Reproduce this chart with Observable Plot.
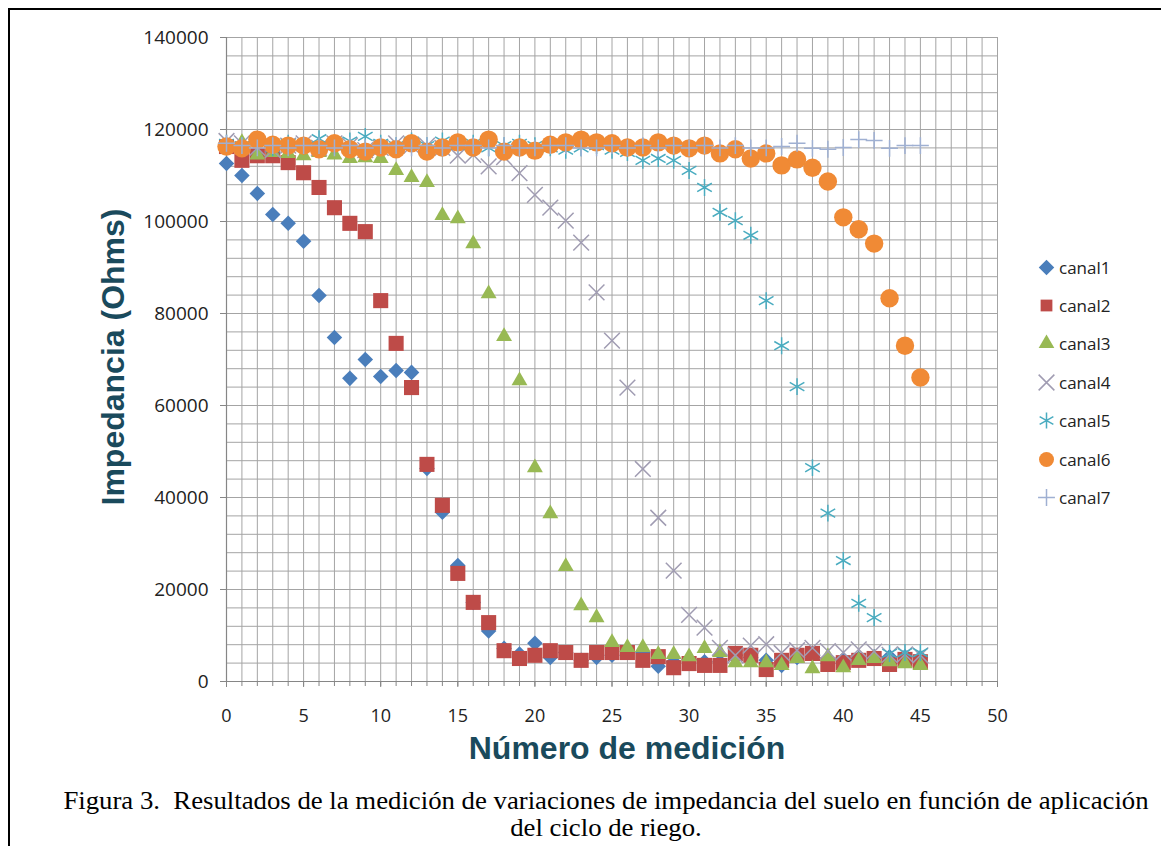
<!DOCTYPE html>
<html>
<head>
<meta charset="utf-8">
<script src="https://cdn.jsdelivr.net/npm/d3@7"></script>
<script src="https://cdn.jsdelivr.net/npm/@observablehq/plot@0.6"></script>
<style>
  html, body { margin: 0; padding: 0; background: #fff; }
  #wrap { position: relative; width: 1161px; height: 846px; overflow: hidden; background:#fff; }
  #frame { position: absolute; left: 8px; top: 8px; width: 1200px; height: 900px; border-left: 2px solid #000; border-top: 2px solid #000; box-sizing: border-box; pointer-events:none; }
  #chart { position: absolute; left: 0; top: 0; }
  .title { position: absolute; font-family: "Liberation Sans", Arial, sans-serif; font-weight: bold; color: #1a4a5c; font-size: 32px; white-space: nowrap; }
  #xtitle { left: 627px; top: 748px; transform: translate(-50%, -50%); }
  #ytitle { left: 113px; top: 357px; transform: translate(-50%, -50%) rotate(-90deg); }
  .cap { position: absolute; left: 606px; transform: translate(-50%, 0) scaleX(1.07); font-family: "Liberation Serif", "Times New Roman", serif; font-size: 25px; line-height: 25px; color: #000; white-space: nowrap; }
  #legend { position: absolute; left: 1036px; top: 248px; font-family: "Open Sans", sans-serif; font-size: 17px; color: #222; }
  .li { display: flex; align-items: center; height: 38.4px; }
  .li svg { margin-right: 2px; }
</style>
</head>
<body>
<div id="wrap">
  <div id="chart"></div>
  <div class="title" id="ytitle">Impedancia (Ohms)</div>
  <div class="title" id="xtitle">Número de medición</div>
  <div id="legend"></div>
  <div class="cap" style="top:788px">Figura 3.&nbsp; Resultados de la medición de variaciones de impedancia del suelo en función de aplicación</div>
  <div class="cap" style="top:815px">del ciclo de riego.</div>
  <div id="frame"></div>
</div>
<script>
const medicion = d3.range(0, 46);
const canal1 = [112600, 110000, 106100, 101500, 99600, 95700, 83900, 74800, 65900, 70000, 66300, 67600, 67200, 46300, 36800, 25200, 17200, 11000, 7200, 6000, 8300, 5200, 6300, 4600, 5200, 5700, 6500, 6300, 3300, 4300, 4800, 4300, 4300, 5700, 5200, 4600, 3500, 5200, 5900, 3900, 4800, 5000, 5400, 5400, 5400, 5200];
const canal2 = [116300, 113300, 114300, 114300, 112800, 110600, 107400, 103000, 99600, 97800, 82800, 73500, 63900, 47200, 38300, 23500, 17200, 12800, 6700, 5000, 5700, 6700, 6300, 4600, 6300, 6300, 6300, 4600, 5400, 3000, 3900, 3500, 3500, 6100, 5700, 2600, 4600, 5700, 6100, 3700, 4100, 4600, 5000, 3700, 4800, 4300];
const canal3 = [116500, 117200, 114500, 115000, 114800, 114300, 115000, 114500, 113700, 113900, 113700, 111100, 109600, 108500, 101300, 100600, 95200, 84300, 75000, 65400, 46500, 36500, 25000, 16500, 13900, 8500, 7400, 7400, 5900, 5900, 5400, 7200, 6300, 4100, 4100, 4100, 3500, 5000, 2800, 5400, 3000, 4600, 5000, 4300, 3900, 3500];
const canal4 = [117500, 117000, 116000, 115500, 116500, 117000, 116000, 117000, 116500, 115500, 116000, 117000, 116500, 116500, 116000, 114300, 114500, 112000, 114000, 110500, 105800, 103000, 100200, 95400, 84600, 74100, 63900, 46200, 35600, 24100, 14500, 11700, 7300, 5700, 7800, 8100, 6200, 6800, 7300, 6600, 6300, 7000, 6500, 5800, 5900, 5700];
const canal5 = [117000, 116500, 117500, 116000, 117000, 116500, 118000, 116500, 117500, 118500, 117000, 116500, 117500, 116500, 117500, 116500, 117000, 116000, 116500, 117000, 116500, 116000, 115500, 116000, 116500, 115500, 115000, 113300, 113700, 113300, 111100, 107400, 102000, 100200, 97000, 82800, 73000, 64100, 46500, 36600, 26300, 17000, 13900, 6100, 6300, 6300];
const canal6 = [116300, 115900, 117800, 116700, 116500, 116500, 115700, 117000, 115700, 115200, 116100, 115700, 117000, 115200, 116100, 117200, 116100, 117800, 115200, 116100, 115400, 116700, 117200, 117800, 117200, 117000, 116100, 116100, 117200, 116500, 115900, 116500, 114800, 115700, 113700, 114800, 112200, 113500, 111700, 108700, 100900, 98300, 95200, 83300, 73000, 66100];
const canal7 = [117000, 116500, 116000, 116500, 116000, 116500, 116500, 116000, 116500, 116000, 116500, 116500, 116000, 116500, 116000, 116500, 116500, 116000, 116500, 116000, 116000, 116500, 116500, 116000, 116000, 116500, 116000, 116500, 116000, 116500, 116000, 116500, 116000, 116500, 116000, 116000, 116300, 117000, 115900, 115700, 116100, 117800, 117600, 115900, 116500, 116500];
const seriesNames = ["canal1", "canal2", "canal3", "canal4", "canal5", "canal6", "canal7"];
const yTicks = d3.range(0, 140001, 20000);
const xTicks = d3.range(0, 51, 5);

const styles = [
  {values: canal1, symbol: "diamond2", color: "#4a7ebb", filled: true, r: 7},
  {values: canal2, symbol: "square2", color: "#be4b48", filled: true, r: 9.6},
  {values: canal3, symbol: "triangle2", color: "#98b954", filled: true, r: 7.6},
  {values: canal4, symbol: "times", color: "#a09cb2", filled: false, r: 7.2},
  {values: canal5, symbol: "asterisk", color: "#4aacc0", filled: false, r: 8},
  {values: canal6, symbol: "circle", color: "#f08a35", filled: true, r: 9.2},
  {values: canal7, symbol: "plus", color: "#9fb0d2", filled: false, r: 5.5}
];

const rows = [];
styles.forEach((s, k) => s.values.forEach((v, i) => rows.push({serie: seriesNames[k], x: medicion[i], y: v})));

const dotMarks = styles.map((s, k) => Plot.dot(rows.filter(d => d.serie === seriesNames[k]), {
  x: "x", y: "y", symbol: () => s.symbol, r: s.r,
  fill: s.filled ? s.color : "none",
  stroke: s.filled ? "none" : s.color,
  strokeWidth: 1.5
}));

const chart = Plot.plot({
  width: 1161,
  height: 846,
  marginLeft: 226,
  marginRight: 164,
  marginTop: 37,
  marginBottom: 165,
  style: {fontFamily: "'Open Sans', sans-serif", fontSize: "18px", color: "#222", background: "#fff"},
  x: {domain: [0, 50]},
  y: {domain: [0, 140000]},
  symbol: {type: "identity"},
  marks: [
    Plot.ruleX(d3.range(0, 51), {stroke: "#a4a4a4", strokeWidth: 1, strokeOpacity: 1}),
    Plot.ruleY(d3.range(0, 140001, 4000), {stroke: "#a4a4a4", strokeWidth: 1, strokeOpacity: 1}),
    Plot.ruleX([0], {stroke: "#868686", strokeWidth: 1.2}),
    Plot.ruleY([0], {stroke: "#868686", strokeWidth: 1.2}),
    Plot.axisY({ticks: yTicks, tickFormat: d => String(d), tickSize: 6, tickPadding: 12, label: null, stroke: "#868686", fontSize: 19}),
    Plot.axisX({ticks: d3.range(0, 51), tickFormat: () => "", tickSize: 5, label: null, stroke: "#868686"}),
    Plot.axisX({ticks: xTicks, tickFormat: d => String(d), tickSize: 6, tickPadding: 22, label: null, stroke: "#868686", fontSize: 18}),
    ...dotMarks
  ]
});
document.getElementById("chart").appendChild(chart);

// legend
const leg = d3.select("#legend");
const symMap = {diamond2: d3.symbolDiamond2, square2: d3.symbolSquare2, triangle2: d3.symbolTriangle2, times: d3.symbolTimes, asterisk: d3.symbolAsterisk, circle: d3.symbolCircle, plus: d3.symbolPlus};
styles.forEach((s, k) => {
  const item = leg.append("div").attr("class", "li");
  const svg = item.append("svg").attr("width", 21).attr("height", 21);
  svg.append("path")
    .attr("transform", "translate(10.5,10.5)")
    .attr("d", d3.symbol(symMap[s.symbol], Math.PI * Math.min(s.r, 7.5) ** 2)())
    .attr("fill", s.filled ? s.color : "none")
    .attr("stroke", s.filled ? "none" : s.color)
    .attr("stroke-width", 1.5);
  item.append("span").text(seriesNames[k]);
});
</script>
</body>
</html>
